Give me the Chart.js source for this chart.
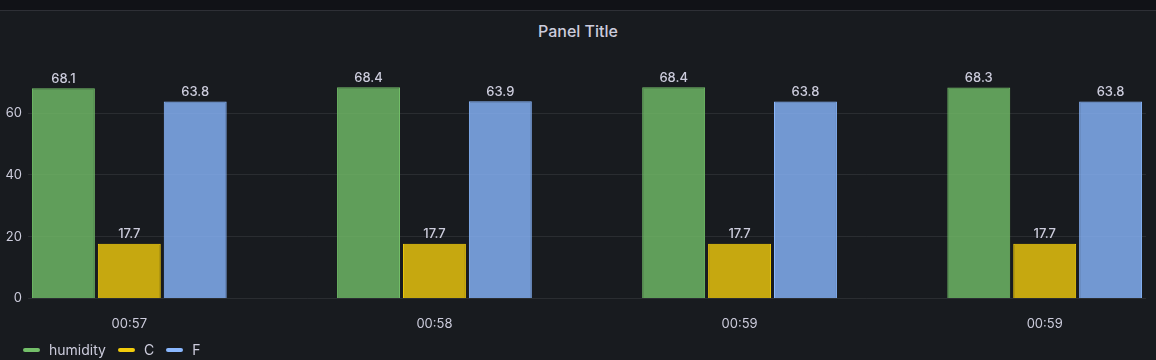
<!DOCTYPE html>
<html>
<head>
<meta charset="utf-8">
<script src="https://cdn.jsdelivr.net/npm/chart.js@4/dist/chart.umd.min.js"></script>
<style>
    html, body { margin: 0; padding: 0; background: #111217; }
    body { width: 1156px; height: 360px; position: relative; overflow: hidden; font-family: Inter, sans-serif; }
    #panel { position: absolute; left: 0; top: 10px; width: 1156px; height: 350px; background: #181b1f; border-top: 1px solid rgba(204,204,220,0.12); box-sizing: border-box; }
    #title { position: absolute; left: 0; top: 21px; width: 1156px; text-align: center; color: #ccccdc; font-size: 16px; font-weight: 500; line-height: 20px; }
    #wrap { position: absolute; left: 0; top: 40px; width: 1156px; height: 320px; }
    #legend { position: absolute; left: 23px; top: 341px; height: 18px; display: flex; align-items: center; color: #ccccdc; font-size: 14px; line-height: 18px; }
    .item { display: flex; align-items: center; margin-right: 12px; }
    .mark { width: 17px; height: 4px; border-radius: 2px; margin-right: 9px; }
</style>
</head>
<body>
<div id="panel"></div>
<div id="title">Panel Title</div>
<div id="wrap"><canvas id="chart"></canvas></div>
<div id="legend"></div>
<script>
const timeLabels = ['00:57', '00:58', '00:59', '00:59'];
const humidity = [68.1, 68.4, 68.4, 68.3];
const tempC = [17.7, 17.7, 17.7, 17.7];
const tempF = [63.8, 63.9, 63.8, 63.8];
const yTicks = [0, 20, 40, 60];

const textColor = '#ccccdc';
const gridColor = 'rgba(204, 204, 220, 0.1)';

function toPoints(values) {
    return values.map((v, i) => ({ x: i, y: v }));
}

const valueLabels = {
    id: 'valueLabels',
    afterDatasetsDraw(chart) {
        const ctx = chart.ctx;
        ctx.save();
        ctx.font = '500 13px Inter';
        ctx.fillStyle = textColor;
        ctx.textAlign = 'center';
        ctx.textBaseline = 'bottom';
        chart.data.datasets.forEach((ds, i) => {
            chart.getDatasetMeta(i).data.forEach((bar, j) => {
                ctx.fillText(ds.data[j].y.toFixed(1), bar.x, bar.y - 3);
            });
        });
        ctx.restore();
    }
};

const chart = new Chart(document.getElementById('chart'), {
    type: 'bar',
    data: {
        datasets: [
            {
                label: 'humidity',
                data: toPoints(humidity),
                backgroundColor: 'rgba(115, 191, 105, 0.8)',
                borderColor: '#73bf69',
                borderWidth: 1
            },
            {
                label: 'C',
                data: toPoints(tempC),
                backgroundColor: 'rgba(242, 204, 12, 0.8)',
                borderColor: '#f2cc0c',
                borderWidth: 1
            },
            {
                label: 'F',
                data: toPoints(tempF),
                backgroundColor: 'rgba(138, 184, 255, 0.8)',
                borderColor: '#8ab8ff',
                borderWidth: 1
            }
        ]
    },
    options: {
        responsive: true,
        maintainAspectRatio: false,
        animation: false,
        categoryPercentage: 0.648,
        barPercentage: 0.955,
        layout: { padding: { top: 30, left: 0, right: 10, bottom: 10 } },
        scales: {
            x: {
                type: 'linear',
                offset: false,
                min: -0.332,
                max: 3.332,
                grid: { display: false, drawTicks: false, offset: false },
                border: { display: false },
                afterBuildTicks: scale => {
                    scale.ticks = timeLabels.map((_, i) => ({ value: i }));
                },
                ticks: {
                    color: textColor,
                    font: { family: 'Inter', size: 13 },
                    padding: 18,
                    maxRotation: 0,
                    callback: v => timeLabels[v]
                }
            },
            y: {
                min: 0,
                max: 74,
                afterFit: scale => { scale.width = 28; },
                afterBuildTicks: scale => {
                    scale.ticks = yTicks.map(v => ({ value: v }));
                },
                grid: { color: gridColor, drawTicks: false },
                border: { display: false },
                ticks: {
                    color: textColor,
                    font: { family: 'Inter', size: 13 },
                    padding: 6
                }
            }
        },
        plugins: {
            legend: { display: false },
            tooltip: { enabled: false }
        }
    },
    plugins: [valueLabels]
});

// legend in HTML like the panel's own legend
const legend = document.getElementById('legend');
chart.data.datasets.forEach(ds => {
    const item = document.createElement('div');
    item.className = 'item';
    const mark = document.createElement('span');
    mark.className = 'mark';
    mark.style.background = ds.borderColor;
    const text = document.createElement('span');
    text.textContent = ds.label;
    item.appendChild(mark);
    item.appendChild(text);
    legend.appendChild(item);
});
</script>
</body>
</html>
